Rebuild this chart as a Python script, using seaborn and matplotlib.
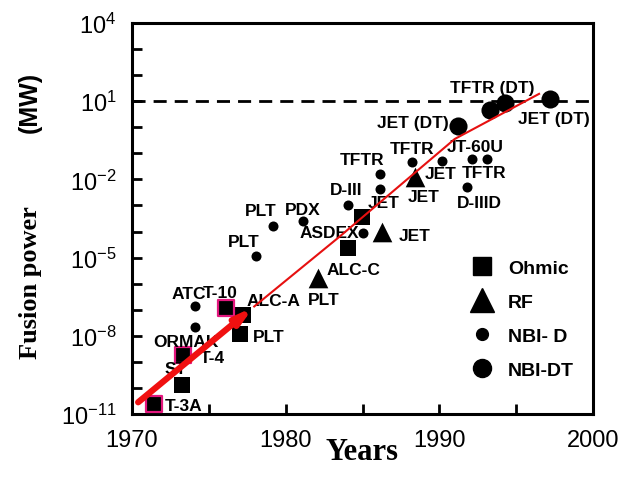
import numpy as np
import pandas as pd
import matplotlib
matplotlib.use("Agg")
import matplotlib.pyplot as plt
from matplotlib.lines import Line2D
from matplotlib.ticker import FixedLocator, NullFormatter, MultipleLocator, FuncFormatter
import seaborn as sns

# ---- data: year of experiment and log10 of fusion power in MW ----
ohmic_year = [1971.4, 1973.25, 1973.3, 1976.1, 1977.2, 1977.0, 1984.05, 1984.95]
ohmic_logp = [-10.6, -9.9, -8.75, -6.95, -7.2, -7.95, -4.65, -3.45]
ohmic_outlined = [True, False, True, True, False, False, False, False]

rf_year = [1982.1, 1986.3, 1988.4]
rf_logp = [-5.8, -4.0, -1.9]

nbid_year = [1974.1, 1974.1, 1978.1, 1979.2, 1981.1, 1984.05, 1985.05,
             1986.15, 1986.15, 1988.2, 1990.2, 1992.1, 1993.1, 1991.8]
nbid_logp = [-6.85, -7.65, -4.95, -3.8, -3.6, -3.0, -4.05,
             -1.8, -2.35, -1.35, -1.3, -1.2, -1.2, -2.3]

nbidt_year = [1991.2, 1993.3, 1994.3, 1997.2]
nbidt_logp = [0.05, 0.65, 0.95, 1.1]

# progress trend: first segment drawn as a bold arrow
trend_year = [1970.4, 1977.9, 1983.5, 1991.0, 1996.55]
trend_logp = [-10.55, -6.9, -4.2, -0.45, 1.3]

breakeven_mw = 10.0

# machine names (text, year, log10 power)
machine_labels = [
    ("T-3A", 1972.15, -10.69), ("ST", 1972.15, -9.25), ("T-4", 1974.42, -8.85),
    ("ORMAK", 1971.37, -8.2), ("ATC", 1972.6, -6.36), ("T-10", 1974.62, -6.32),
    ("ALC-A", 1977.48, -6.63), ("PLT", 1977.87, -8.01), ("PLT", 1976.25, -4.4),
    ("PLT", 1977.35, -3.21), ("PDX", 1979.95, -3.17), ("ASDEX", 1980.93, -4.02),
    ("ALC-C", 1982.69, -5.44), ("PLT", 1981.45, -6.59), ("D-III", 1982.88, -2.37),
    ("TFTR", 1983.53, -1.22), ("JET", 1985.35, -2.87), ("JET", 1987.37, -4.17),
    ("TFTR", 1986.79, -0.83), ("JET", 1989.06, -1.79), ("JET", 1987.96, -2.67),
    ("JT-60U", 1990.49, -0.72), ("TFTR", 1991.47, -1.72), ("D-IIID", 1991.15, -2.87),
    ("JET (DT)", 1985.94, 0.2), ("TFTR (DT)", 1990.69, 1.51), ("JET (DT)", 1995.11, 0.32),
]

legend_names = ["Ohmic", "RF", "NBI- D", "NBI-DT"]
x_ticks_major = [1970, 1980, 1990, 2000]
y_label_exps = [-11, -8, -5, -2, 1, 4]

# ---- tidy table ----
def frame(years, logs, kind):
    return pd.DataFrame({"year": years, "power": 10.0 ** np.asarray(logs), "kind": kind})

ohm = frame(ohmic_year, ohmic_logp, "Ohmic")
ohm["outlined"] = ohmic_outlined
rf = frame(rf_year, rf_logp, "RF")
nbid = frame(nbid_year, nbid_logp, "NBI- D")
nbidt = frame(nbidt_year, nbidt_logp, "NBI-DT")

sns.set_theme(style="white")
plt.rcParams["font.family"] = ["Liberation Sans", "DejaVu Sans"]
plt.rcParams["mathtext.fontset"] = "custom"
plt.rcParams["mathtext.rm"] = "Liberation Sans"
plt.rcParams["axes.unicode_minus"] = True
plt.rcParams["text.color"] = "black"
plt.rcParams["axes.labelcolor"] = "black"
plt.rcParams["xtick.color"] = "black"
plt.rcParams["ytick.color"] = "black"

W, H = 636, 481
fig = plt.figure(figsize=(W / 100, H / 100), dpi=100)
ax = fig.add_axes([132 / W, 1 - 415 / H, (593 - 132) / W, (415 - 24) / H])
ax.set_yscale("log")
ax.set_xlim(1970, 2000)
ax.set_ylim(1e-11, 1e4)

pink = "#e3177e"
sns.scatterplot(data=ohm[~ohm.outlined], x="year", y="power", marker="s", s=125,
                color="black", linewidth=0, ax=ax, legend=False, zorder=3)
sns.scatterplot(data=ohm[ohm.outlined], x="year", y="power", marker="s", s=125,
                color="black", edgecolor=pink, linewidth=1.6, ax=ax, legend=False, zorder=3)
sns.scatterplot(data=rf, x="year", y="power", marker="^", s=200,
                color="black", linewidth=0, ax=ax, legend=False, zorder=3)
sns.scatterplot(data=nbid, x="year", y="power", marker="o", s=52,
                color="black", linewidth=0, ax=ax, legend=False, zorder=3)
sns.scatterplot(data=nbidt, x="year", y="power", marker="o", s=170,
                color="black", linewidth=0, ax=ax, legend=False, zorder=3)

# ignition reference level
ax.axhline(breakeven_mw, color="black", lw=2.0, dashes=(4.7, 2.9), zorder=2)

# trend: bold arrow then thin continuation
tp = 10.0 ** np.asarray(trend_logp)
ax.plot(trend_year[1:], tp[1:], color="#e61010", lw=1.5, zorder=5, solid_capstyle="butt")
ax.annotate("", xy=(trend_year[1], tp[1]), xytext=(trend_year[0], tp[0]),
            arrowprops=dict(arrowstyle="-|>,head_length=0.8,head_width=0.22",
                            lw=4.5, color="#f01010", shrinkA=0, shrinkB=0),
            zorder=6)

for name, yr, lp in machine_labels:
    ax.text(yr, 10.0 ** lp, name, fontsize=12.5, fontweight="bold",
            ha="left", va="center", color="black", zorder=4)

# axes styling
for sp in ax.spines.values():
    sp.set_linewidth(2.2)
    sp.set_color("black")
ax.xaxis.set_major_locator(FixedLocator(x_ticks_major))
ax.xaxis.set_minor_locator(MultipleLocator(5))
ax.yaxis.set_major_locator(FixedLocator([10.0 ** e for e in y_label_exps]))
ax.yaxis.set_minor_locator(FixedLocator([10.0 ** e for e in range(-11, 5)]))
ax.yaxis.set_minor_formatter(NullFormatter())
ax.yaxis.set_major_formatter(FuncFormatter(
    lambda v, p: r"$\mathdefault{10^{%d}}$" % round(np.log10(v))))
ax.tick_params(axis="both", which="both", direction="in", length=7, width=2,
               colors="black", labelcolor="black", labelsize=17, pad=11)
ax.tick_params(axis="y", which="both", left=True, right=False)
ax.tick_params(axis="x", which="both", bottom=True, top=False)
ax.grid(False)

handles = [
    Line2D([], [], ls="", marker="s", ms=13.5, color="black"),
    Line2D([], [], ls="", marker="^", ms=17, color="black"),
    Line2D([], [], ls="", marker="o", ms=8.5, color="black"),
    Line2D([], [], ls="", marker="o", ms=13, color="black"),
]
leg = ax.legend(handles, legend_names, loc="upper left",
                bbox_to_anchor=((467 - 132) / 461, 1 - (260 - 24) / 391),
                frameon=False, borderpad=0, borderaxespad=0, handlelength=1.5,
                handletextpad=0.6, labelspacing=0.85, labelcolor="black",
                prop={"family": "Liberation Sans", "weight": "bold", "size": 14})

ax.set_ylabel("")
ax.set_xlabel("Years", fontsize=22, fontweight="bold", family="Liberation Serif",
              color="black")
ax.xaxis.set_label_coords(0.5, -(438 - 415) / 391)

fig.text(31 / W, 1 - 283 / H, "Fusion power", rotation=90, ha="center", va="center",
         fontsize=19, fontweight="bold", family="Liberation Serif", color="black")
fig.text(30 / W, 1 - 102 / H, "(MW)", rotation=90, ha="center", va="center",
         fontsize=18, fontweight="bold", family="Liberation Sans", color="black")

fig.savefig("out.png", dpi=100)
